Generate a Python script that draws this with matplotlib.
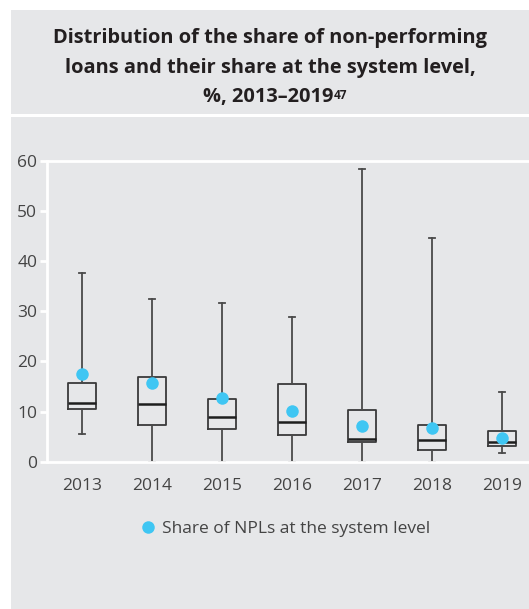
import matplotlib
matplotlib.use('Agg')
import matplotlib.pyplot as plt
from matplotlib.patches import Rectangle
from matplotlib.lines import Line2D

plt.rcParams['font.family'] = ['Open Sans', 'DejaVu Sans']

years = ['2013', '2014', '2015', '2016', '2017', '2018', '2019']
whis_hi = [37.7, 32.5, 31.6, 28.9, 58.3, 44.6, 13.8]
q3 = [15.7, 16.9, 12.4, 15.5, 10.4, 7.3, 6.2]
med = [11.8, 11.6, 9.0, 7.9, 4.6, 4.3, 3.9]
q1 = [10.6, 7.3, 6.6, 5.4, 3.9, 2.4, 3.1]
whis_lo = [5.5, 0.0, 0.0, 0.0, 0.0, 0.0, 1.7]
system_share = [17.5, 15.7, 12.6, 10.2, 7.2, 6.7, 4.8]

W, H = 529, 609
bg = '#e6e7e9'
fig = plt.figure(figsize=(W / 100, H / 100), dpi=100)
fig.patch.set_facecolor('white')

# gray panels (title band + chart band)
fig.patches.append(Rectangle((11 / W, 1 - 114 / H), 1, 104 / H, transform=fig.transFigure,
                             facecolor=bg, edgecolor='none', zorder=-5))
fig.patches.append(Rectangle((11 / W, 0), 1, 1 - 117 / H, transform=fig.transFigure,
                             facecolor=bg, edgecolor='none', zorder=-5))

# title
tcol = '#231f20'
tsize = 14.4
fig.text(270 / W, 1 - 38 / H, 'Distribution of the share of non-performing',
         ha='center', va='center', fontsize=tsize, fontweight='bold', color=tcol)
fig.text(270 / W, 1 - 68 / H, 'loans and their share at the system level,',
         ha='center', va='center', fontsize=tsize, fontweight='bold', color=tcol)
t3 = fig.text(268 / W, 1 - 97 / H, '%, 2013\u20132019',
              ha='center', va='center', fontsize=tsize, fontweight='bold', color=tcol)
fig.canvas.draw()
bb = t3.get_window_extent(renderer=fig.canvas.get_renderer())
fig.text(bb.x1 / W, bb.y1 / H - 0.003, '47', ha='left', va='top',
         fontsize=8.5, fontweight='bold', color=tcol)

# axes: y 0 at px 461.7, 60 at px 160.7 ; x cat0 at px 82, step 70
ax = fig.add_axes([47 / W, 1 - 461.7 / H, 1 - 47 / W, (461.7 - 160.7) / H])
ax.set_facecolor('none')
ax.set_xlim(-0.5, (529 - 82) / 70)
ax.set_ylim(0, 60)

stats = []
for i in range(len(years)):
    stats.append({'whislo': whis_lo[i], 'q1': q1[i], 'med': med[i], 'q3': q3[i],
                  'whishi': whis_hi[i], 'fliers': [], 'label': years[i]})

ax.bxp(stats, positions=range(len(years)), widths=0.4, capwidths=0.09,
       showfliers=False, patch_artist=False,
       boxprops=dict(color='#3a3a3a', linewidth=1.3),
       medianprops=dict(color='#1e1e1e', linewidth=1.8),
       whiskerprops=dict(color='#4a4a4a', linewidth=1.3),
       capprops=dict(color='#4a4a4a', linewidth=1.3))

ax.plot(range(len(years)), system_share, 'o', color='#3fc6f3', markersize=9,
        markeredgewidth=0, zorder=5)

ax.spines['right'].set_visible(False)
for s in ['left', 'top', 'bottom']:
    ax.spines[s].set_color('white')
    ax.spines[s].set_linewidth(2)

ax.set_yticks([0, 10, 20, 30, 40, 50, 60])
ax.set_xticks(range(len(years)))
ax.set_xticklabels(years)
ax.tick_params(axis='y', length=5, width=2, color='white', pad=2,
               labelsize=12.5, labelcolor='#444444')
ax.tick_params(axis='x', length=0, pad=12, labelsize=12.5, labelcolor='#444444')

handle = Line2D([], [], marker='o', linestyle='none', color='#3fc6f3',
                markersize=9, markeredgewidth=0)
fig.legend([handle], ['Share of NPLs at the system level'], loc='center',
           bbox_to_anchor=(285 / W, 1 - 529 / H), frameon=False, fontsize=12.5,
           labelcolor='#444444', handletextpad=0.3, handlelength=1.0)

fig.savefig('out.png', dpi=100, facecolor=fig.get_facecolor())
